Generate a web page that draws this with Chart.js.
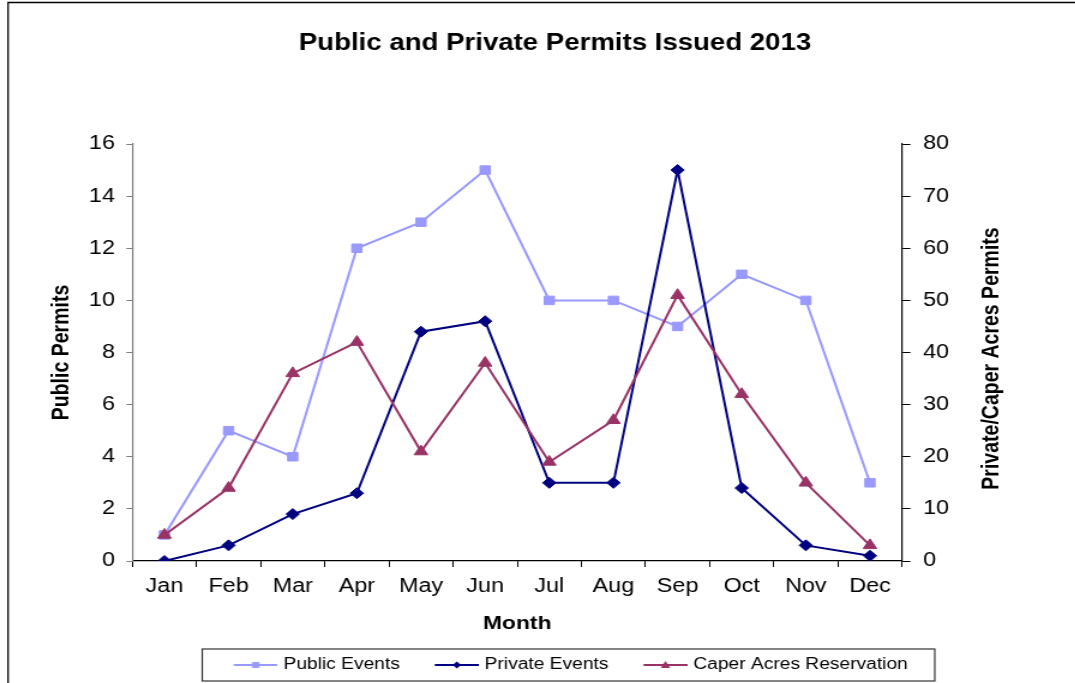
<!DOCTYPE html>
<html>
<head>
<meta charset="utf-8">
<script src="https://cdn.jsdelivr.net/npm/chart.js@4.4.0/dist/chart.umd.min.js"></script>
<style>
  html, body { margin: 0; padding: 0; background: #ffffff; overflow: hidden; }
  #wrap { position: absolute; left: 0; top: 0; width: 896px; height: 683px; transform: scaleX(1.2); transform-origin: 0 0; }
</style>
</head>
<body>
<div id="wrap"><canvas id="c"></canvas></div>
<script>
const months = ['Jan', 'Feb', 'Mar', 'Apr', 'May', 'Jun', 'Jul', 'Aug', 'Sep', 'Oct', 'Nov', 'Dec'];
const publicEvents = [1, 5, 4, 12, 13, 15, 10, 10, 9, 11, 10, 3];
const privateEvents = [0, 3, 9, 13, 44, 46, 15, 15, 75, 14, 3, 1];
const caperAcres = [5, 14, 36, 42, 21, 38, 19, 27, 51, 32, 15, 3];
const leftTicks = [0, 2, 4, 6, 8, 10, 12, 14, 16];
const rightTicks = [0, 10, 20, 30, 40, 50, 60, 70, 80];
const rightTitle = 'Private/Caper Acres Permits';

const FONT = "'Liberation Sans', Arial, Helvetica, sans-serif";
Chart.defaults.font.family = FONT;
Chart.defaults.color = '#000';

const COL_PUBLIC = '#9999FF';
const COL_PRIVATE = '#000080';
const COL_CAPER = '#993366';

function sampleImg(color, kind) {
  const c = document.createElement('canvas');
  c.width = 59; c.height = 14;
  const g = c.getContext('2d');
  const cy = 7, cx = 40.6;
  g.strokeStyle = color; g.lineWidth = 2;
  g.beginPath(); g.moveTo(22.3, cy); g.lineTo(59, cy); g.stroke();
  g.fillStyle = color;
  g.beginPath();
  if (kind === 'rect') {
    g.rect(cx - 3, cy - 3, 6, 6);
  } else if (kind === 'rectRot') {
    g.moveTo(cx, cy - 3.5); g.lineTo(cx + 3.5, cy); g.lineTo(cx, cy + 3.5); g.lineTo(cx - 3.5, cy);
    g.closePath();
  } else {
    g.moveTo(cx, cy - 4); g.lineTo(cx + 4, cy + 3); g.lineTo(cx - 4, cy + 3); g.closePath();
  }
  g.fill();
  return c;
}
const legendImgs = [sampleImg(COL_PUBLIC, 'rect'), sampleImg(COL_PRIVATE, 'rectRot'), sampleImg(COL_CAPER, 'triangle')];

const framePlugin = {
  id: 'frame',
  afterLayout(chart) {
    chart.titleBlock.left += 14.5; chart.titleBlock.right += 14.5;
    chart.legend.left += 18; chart.legend.right += 18;
  },
  beforeDraw(chart) {
    const ctx = chart.ctx;
    ctx.save();
    ctx.fillStyle = '#ffffff';
    ctx.fillRect(0, 0, chart.width, chart.height);
    ctx.strokeStyle = '#000';
    ctx.lineWidth = 1.3;
    ctx.beginPath();
    ctx.moveTo(6.7, 683); ctx.lineTo(6.7, 2.5); ctx.lineTo(chart.width, 2.5);
    ctx.stroke();
    ctx.restore();
  },
  afterDraw(chart) {
    const ctx = chart.ctx;
    // right axis title, reading bottom-to-top
    const ys = chart.scales.y1;
    ctx.save();
    ctx.translate(826.7, (ys.top + ys.bottom) / 2 + 6);
    ctx.rotate(-Math.PI / 2);
    ctx.fillStyle = '#000';
    ctx.font = "bold 19.5px " + FONT;
    ctx.textAlign = 'center';
    ctx.textBaseline = 'middle';
    ctx.fillText(rightTitle, 0, 0);
    ctx.restore();

    const hb = chart.legend.legendHitBoxes;
    if (!hb || !hb.length) return;
    const first = hb[0], last = hb[hb.length - 1];
    const cy = first.top + first.height / 2;
    ctx.save();
    ctx.strokeStyle = '#333';
    ctx.lineWidth = 1.2;
    ctx.strokeRect(first.left - 7, cy - 16, (last.left + last.width + 22.5) - (first.left - 7), 32);
    ctx.restore();
  }
};

new Chart(document.getElementById('c'), {
  type: 'line',
  data: {
    labels: months,
    datasets: [
      { label: 'Public Events', data: publicEvents, yAxisID: 'y', borderColor: COL_PUBLIC, backgroundColor: COL_PUBLIC,
        borderWidth: 2, pointStyle: 'rect', pointRadius: 6, pointBorderWidth: 1, order: 2, tension: 0 },
      { label: 'Private Events', data: privateEvents, yAxisID: 'y1', borderColor: COL_PRIVATE, backgroundColor: COL_PRIVATE,
        borderWidth: 2, pointStyle: 'rectRot', pointRadius: 5.5, pointBorderWidth: 1, order: 1, tension: 0 },
      { label: 'Caper Acres Reservation', data: caperAcres, yAxisID: 'y1', borderColor: COL_CAPER, backgroundColor: COL_CAPER,
        borderWidth: 2, pointStyle: 'triangle', pointRadius: 6.5, pointBorderWidth: 1, order: 0, tension: 0 }
    ]
  },
  options: {
    responsive: true,
    maintainAspectRatio: false,
    animation: false,
    layout: { padding: { left: 0, right: 0, top: 0, bottom: 0 } },
    plugins: {
      tooltip: { enabled: false },
      title: {
        display: true,
        text: 'Public and Private Permits Issued 2013',
        color: '#000',
        font: { size: 23, weight: 'bold' },
        padding: { top: 30.2, bottom: 86.2 }
      },
      legend: {
        position: 'bottom',
        labels: {
          usePointStyle: true,
          pointStyleWidth: 52.7,
          padding: 10,
          color: '#000',
          font: { size: 16 },
          generateLabels(chart) {
            const items = Chart.defaults.plugins.legend.labels.generateLabels(chart);
            items.sort((a, b) => a.datasetIndex - b.datasetIndex);
            items.forEach(it => { it.pointStyle = legendImgs[it.datasetIndex]; it.lineWidth = 0; });
            return items;
          }
        }
      }
    },
    scales: {
      x: {
        type: 'category',
        offset: true,
        grid: { offset: true, drawOnChartArea: false, drawTicks: true, tickLength: 6, color: '#000', lineWidth: 1 },
        border: { color: '#000', width: 1.2 },
        ticks: { color: '#000', font: { size: 19.5 }, padding: 7.5, maxRotation: 0, autoSkip: false },
        title: { display: true, text: 'Month', color: '#000', font: { size: 19, weight: 'bold' }, padding: { top: 0, bottom: 11.6 } },
        afterFit(s) { s.height = 86; }
      },
      y: {
        position: 'left',
        min: 0, max: 16,
        afterBuildTicks(s) { s.ticks = leftTicks.map(v => ({ value: v })); },
        grid: { drawOnChartArea: false, tickLength: 5, color: '#808080', lineWidth: 1 },
        border: { color: '#808080', width: 1.2 },
        ticks: { color: '#000', font: { size: 19.5 }, padding: 9.5 },
        title: { display: true, text: 'Public Permits', color: '#000', font: { size: 19.5, weight: 'bold' }, padding: { top: 40, bottom: 0 } },
        afterFit(s) { s.width = 110.3; }
      },
      y1: {
        position: 'right',
        min: 0, max: 80,
        afterBuildTicks(s) { s.ticks = rightTicks.map(v => ({ value: v })); },
        grid: { drawOnChartArea: false, tickLength: 7, color: '#000', lineWidth: 1 },
        border: { color: '#000', width: 1.2 },
        ticks: { color: '#000', font: { size: 19.5 }, padding: 10.5 },
        title: { display: false, text: rightTitle },
        afterFit(s) { s.width = 144.3; }
      }
    }
  },
  plugins: [framePlugin]
});
</script>
</body>
</html>
